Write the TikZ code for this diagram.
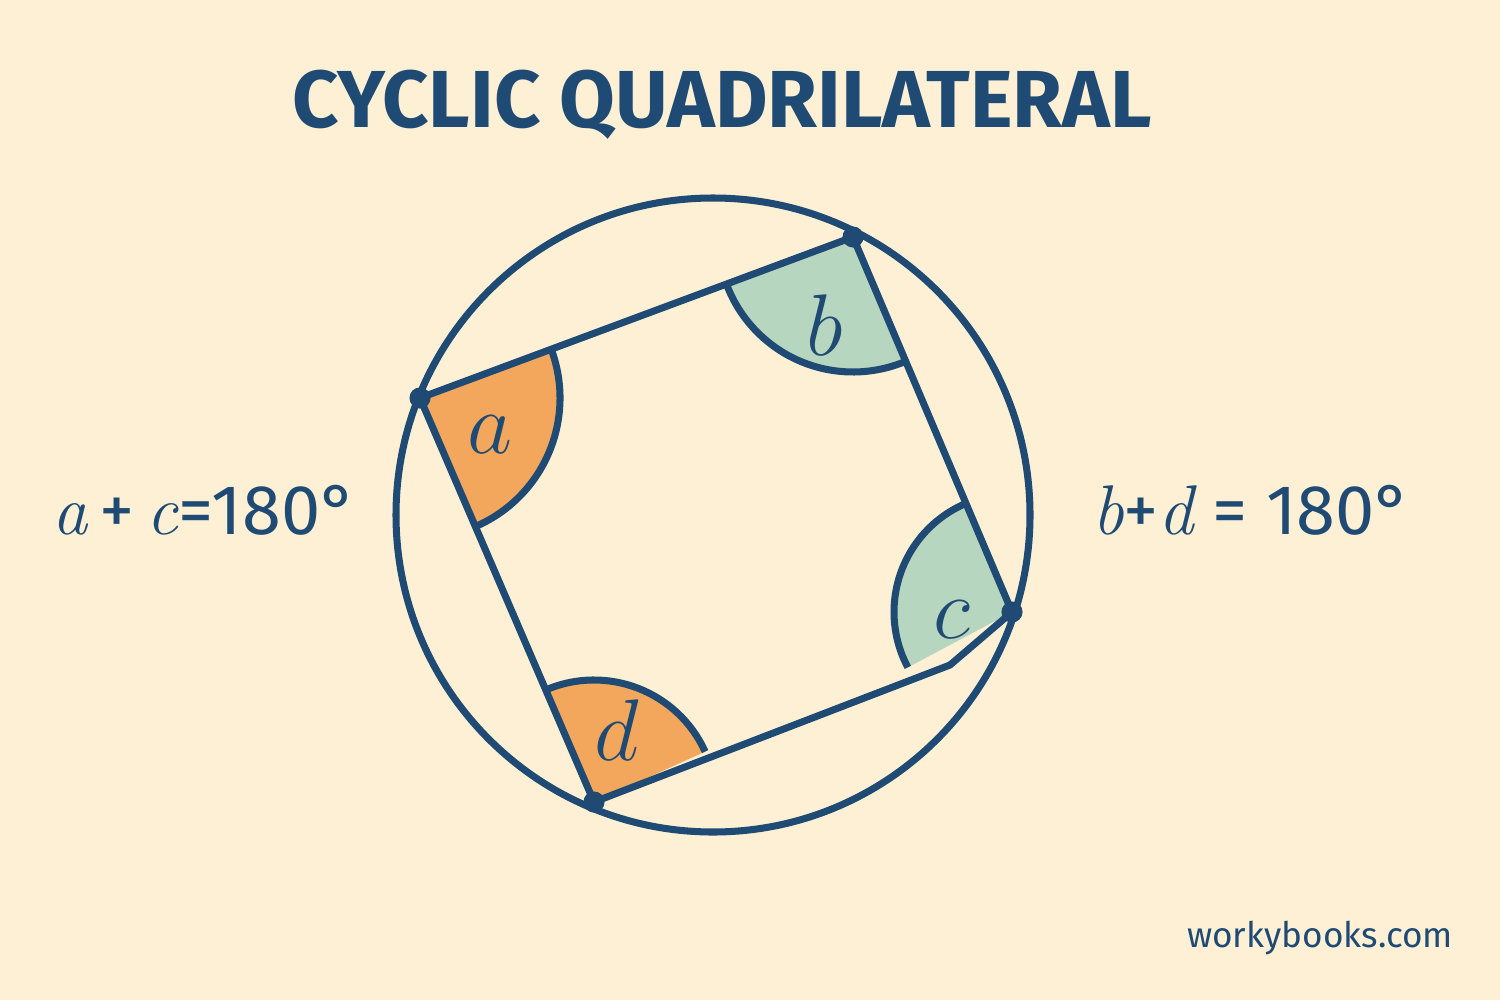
\documentclass[tikz,border=0pt]{standalone}
\usepackage{fontspec}
\setsansfont{Fira Sans}
\usepackage{xcolor}
\definecolor{paper}{HTML}{FDF0D5}
\definecolor{navy}{HTML}{1F4A73}
\definecolor{orangefill}{HTML}{F2A75C}
\definecolor{greenfill}{HTML}{B7D6BF}

\begin{document}
\begin{tikzpicture}[x=0.01cm,y=-0.01cm,
            every node/.style={inner sep=0pt, text=navy}
        ]
        \tikzstyle {edge_line} = [draw=navy, line width=2pt, line join=round]
        \tikzstyle {vertex} = [circle, fill=navy, minimum size=6pt]
        \tikzstyle {angle_letter} = [font=\fontsize{30}{30}\selectfont]
        \tikzstyle {eqn} = [font=\sffamily\fontsize{20}{20}\selectfont]

        \fill[paper] (0,0) rectangle (1500,1000);
        \useasboundingbox (0,0) rectangle (1500,1000);

        \node [font=\sffamily\bfseries\fontsize{23}{23}\selectfont] (title) at (722,105) {CYCLIC QUADRILATERAL};

        \coordinate (A) at (420,398);
        \coordinate (B) at (853,237);
        \coordinate (C) at (1012,612);
        \coordinate (K) at (950,665);
        \coordinate (D) at (594,802);

        % angle sectors (y axis points down, so angles run clockwise)
        \fill[orangefill] (A) -- ++(66.7:140) arc[start angle=66.7, end angle=-20.4, radius=140] -- cycle;
        \draw[edge_line] (A) ++(66.7:140) arc[start angle=66.7, end angle=-20.4, radius=140];
        \fill[greenfill] (B) -- ++(-200.4:135) arc[start angle=-200.4, end angle=-293, radius=135] -- cycle;
        \draw[edge_line] (B) ++(-200.4:135) arc[start angle=-200.4, end angle=-293, radius=135];
        \fill[greenfill] (C) -- ++(-113:118) arc[start angle=-113, end angle=-208, radius=118] -- cycle;
        \draw[edge_line] (C) ++(-113:118) arc[start angle=-113, end angle=-208, radius=118];
        \fill[orangefill] (D) -- ++(-24.4:122) arc[start angle=-24.4, end angle=-113.3, radius=122] -- cycle;
        \draw[edge_line] (D) ++(-24.4:122) arc[start angle=-24.4, end angle=-113.3, radius=122];

        \draw[edge_line] (713,515) circle[radius=317];
        \draw[edge_line] (A) -- (B) -- (C) -- (K) -- (D) -- cycle;

        \node [vertex] (vA) at (A) {};
        \node [vertex] (vB) at (B) {};
        \node [vertex] (vC) at (C) {};
        \node [vertex] (vD) at (D) {};

        \node [angle_letter] (la) at (490,435) {$a$};
        \node [angle_letter] (lb) at (825,325) {$b$};
        \node [angle_letter] (lc) at (952,620) {$c$};
        \node [angle_letter] (ld) at (617,730) {$d$};

        \node [eqn] (eq1) at (205,510) {$\mathit{a}$\,+\,$\mathit{c}$=180°};
        \node [eqn] (eq2) at (1252,510) {$\mathit{b}$+$\mathit{d}$ = 180°};

        \node [font=\sffamily\fontsize{10}{10}\selectfont] (site) at (1320,938) {workybooks.com};
        \end{tikzpicture}
\end{document}
